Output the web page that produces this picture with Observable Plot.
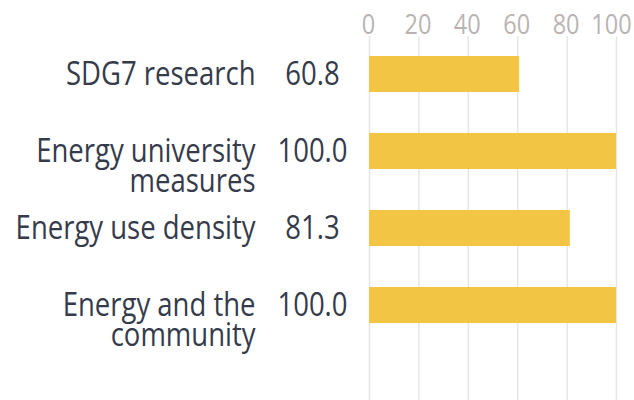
<!DOCTYPE html>
<html>
<head>
<meta charset="utf-8">
<script src="https://cdn.jsdelivr.net/npm/d3@7"></script>
<script src="https://cdn.jsdelivr.net/npm/@observablehq/plot@0.6"></script>
<style>
  html, body { margin: 0; padding: 0; background: #fff; }
  #chart svg { display: block; }
</style>
</head>
<body>
<div id="chart"></div>
<script>
const categories = ["SDG7 research", "Energy university\nmeasures", "Energy use density", "Energy and the\ncommunity"];
const scores = [60.8, 100.0, 81.3, 100.0];
const xTicks = [0, 20, 40, 60, 80, 100];

const data = categories.map((c, i) => ({category: c, score: scores[i]}));
const lastTick = xTicks[xTicks.length - 1];

const tickStyle = {anchor: "top", tickSize: 0, tickPadding: 4, fontSize: 23.5, fill: "#b9b3b3", label: null, tickFormat: d => String(d)};

const chart = Plot.plot({
  width: 634,
  height: 400,
  marginLeft: 369,
  marginRight: 18,
  marginTop: 36,
  marginBottom: 0,
  style: {fontFamily: "'Open Sans', sans-serif", background: "#fff"},
  x: {domain: [0, 100], ticks: xTicks, label: null},
  y: {domain: categories, range: [13, 366], padding: 0.528, axis: null},
  marks: [
    Plot.gridX(xTicks, {stroke: "#e6e6e6", strokeOpacity: 1, strokeWidth: 1.5}),
    Plot.axisX({...tickStyle, ticks: xTicks.slice(0, -1), dx: -1}),
    Plot.axisX({...tickStyle, ticks: [lastTick], dx: -5}),
    Plot.barX(data, {x: "score", y: "category", fill: "#f2c545"}),
    Plot.text(data, {y: "category", text: d => d.category.split("\n")[0], frameAnchor: "left", dx: -114, textAnchor: "end", fontSize: 27.5, fill: "#353b4b"}),
    Plot.text(data.filter(d => d.category.includes("\n")), {y: "category", text: d => d.category.split("\n")[1], frameAnchor: "left", dx: -114, dy: 30, textAnchor: "end", fontSize: 27.5, fill: "#353b4b"}),
    Plot.text(data, {y: "category", text: d => d.score.toFixed(1), frameAnchor: "left", dx: -57, textAnchor: "middle", fontSize: 27.5, fill: "#353b4b"})
  ]
});
document.getElementById("chart").appendChild(chart);

// The reference's lettering is slightly taller than it is wide: stretch each text vertically about its own centre.
const stretch = 1.16;
chart.querySelectorAll("text").forEach(t => {
  const b = t.getBBox();
  const cy = b.y + b.height / 2;
  const prev = t.getAttribute("transform") || "";
  t.setAttribute("transform", `${prev} translate(0,${cy}) scale(1,${stretch}) translate(0,${-cy})`);
});
</script>
</body>
</html>
